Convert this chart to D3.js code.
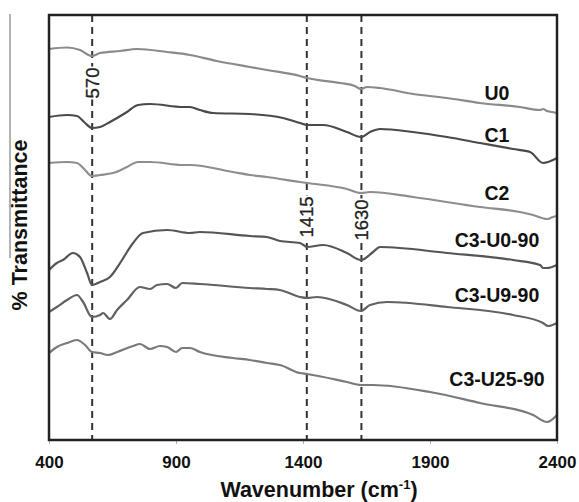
<!DOCTYPE html>
<html>
<head>
<meta charset="utf-8">
<script src="https://cdn.jsdelivr.net/npm/d3@7/dist/d3.min.js"></script>
<style>
  html, body { margin: 0; padding: 0; background: #fff; }
  svg { display: block; font-family: "Liberation Sans", Arial, sans-serif; }
</style>
</head>
<body>
<svg id="chart" width="579" height="502"></svg>
<script>
// ---- Data (wavenumber in cm-1, transmittance in arbitrary offset units) ----
const xTicks = [400, 900, 1400, 1900, 2400];
const markers = [570, 1415, 1630];
const seriesNames = ["U0", "C1", "C2", "C3-U0-90", "C3-U9-90", "C3-U25-90"];

const U0 = [[400,391],[471,392.5],[522,390],[569,384],[601,387],[680,389],[746,391],[865,388],[955,385],[1061,379],[1191,373],[1258,370],[1388,364],[1416,362],[1546,357],[1604,354],[1628,351],[1652,353],[1703,352],[1833,346],[1967,342],[2097,337],[2254,333],[2333,330],[2345,331],[2361,329],[2380,328],[2400,327]];
const C1 = [[400,323],[471,325],[510,324],[542,317],[569,312],[601,313],[640,318],[707,328],[750,335],[798,336],[928,333],[955,333],[994,330],[1046,327],[1191,326],[1321,322],[1388,317],[1416,315],[1479,315],[1573,308],[1628,303],[1664,308],[1703,311],[1833,308],[1967,303],[2097,297],[2227,291],[2294,288],[2345,277],[2400,282]];
const C2 = [[400,277],[471,278],[510,277],[542,270],[569,264],[601,265],[652,267],[707,273],[750,278],[798,278],[928,275],[955,275],[1124,268],[1191,265],[1258,263],[1388,258],[1416,257],[1573,251],[1628,247],[1664,248],[1833,243],[2097,233],[2254,228],[2306,225],[2361,221],[2384,223],[2400,224]];
const C3U0 = [[400,170],[431,177],[455,180],[494,187],[522,183],[550,167],[569,155],[601,158],[640,163],[680,177],[707,188],[731,197],[770,207],[865,210],[955,207],[994,208],[1191,204],[1258,203],[1309,199],[1388,197],[1416,193],[1479,195],[1573,187],[1628,180],[1676,188],[1703,193],[1967,187],[2227,180],[2333,175],[2345,172],[2361,172],[2400,175]];
const C3U9 = [[400,128],[431,133],[471,140],[510,145],[534,138],[569,123],[601,125],[613,127],[640,121],[668,130],[707,140],[758,153],[798,151],[825,155],[865,156],[900,152],[924,157],[994,156],[1191,152],[1258,151],[1309,150],[1388,143],[1416,142],[1455,143],[1573,135],[1628,129],[1664,135],[1731,138],[1967,133],[2227,125],[2345,117],[2365,114],[2400,117]];
const C3U25 = [[400,87],[431,93],[471,97],[510,100],[542,95],[569,88],[601,87],[632,85],[668,88],[731,94],[758,96],[798,91],[837,94],[865,93],[900,88],[924,92],[955,92],[994,88],[1124,82],[1191,80],[1258,77],[1309,75],[1388,67],[1416,66],[1573,58],[1628,55],[1676,55],[1900,48],[2097,37],[2306,25],[2361,18],[2400,25]];

const seriesData = [U0, C1, C2, C3U0, C3U9, C3U25];
const seriesColors = ["#8a8a8a", "#4a4a4a", "#8e8e8e", "#555555", "#626262", "#7a7a7a"];
const labelY = [340, 298, 240, 193, 138, 54]; // label baseline positions in data units

// ---- Layout ----
const svg = d3.select("#chart");
const mLeft = 49, mRight = 557, mTop = 15, mBottom = 440;
const x = d3.scaleLinear().domain([400, 2400]).range([mLeft, mRight]);
const y = d3.scaleLinear().domain([0, 425]).range([mBottom, mTop]);

// stray gray line at left edge
svg.append("line").attr("x1", 10).attr("x2", 10).attr("y1", 14).attr("y2", 258)
  .attr("stroke", "#9a9a9a").attr("stroke-width", 1.5);

// x axis
const xAxis = d3.axisBottom(x).tickValues(xTicks).tickSize(4).tickPadding(12).tickFormat(d3.format("d"));
const gx = svg.append("g").attr("transform", `translate(0,${mBottom})`).call(xAxis);
gx.select(".domain").remove();
gx.selectAll(".tick line").attr("stroke", "#b0b0b0").attr("stroke-width", 1);
gx.selectAll(".tick text").attr("font-size", 17).attr("font-weight", "bold").attr("fill", "#111")
  .attr("font-family", "Liberation Sans, Arial, sans-serif");

// marker dashed lines
markers.forEach(m => {
  svg.append("line").attr("x1", x(m)).attr("x2", x(m)).attr("y1", mTop).attr("y2", mBottom)
    .attr("stroke", "#333").attr("stroke-width", 2).attr("stroke-dasharray", "7,5");
});

// series lines
const line = d3.line().x(d => x(d[0])).y(d => y(d[1])).curve(d3.curveMonotoneX);
seriesData.forEach((s, i) => {
  svg.append("path").datum(s).attr("d", line).attr("fill", "none")
    .attr("stroke", seriesColors[i]).attr("stroke-width", 2.2).attr("stroke-linejoin", "round");
});

// series labels
seriesNames.forEach((n, i) => {
  svg.append("text").attr("x", 497).attr("y", y(labelY[i])).attr("text-anchor", "middle")
    .attr("font-size", 19.5).attr("font-weight", "bold").attr("fill", "#111").text(n);
});

// marker annotations (rotated, with white background)
const annPos = [[570, 357], [1415, 223], [1630, 220]];
annPos.forEach(([m, v]) => {
  const g = svg.append("g").attr("transform", `translate(${x(m)},${y(v)}) rotate(-90)`);
  const rect = g.append("rect").attr("fill", "#fff");
  const t = g.append("text").attr("text-anchor", "middle").attr("dy", "0.36em")
    .attr("font-size", 18.5).attr("fill", "#222").attr("stroke", "#222").attr("stroke-width", 0.3)
    .text(String(m));
  const bb = t.node().getBBox();
  rect.attr("x", bb.x - 1).attr("y", bb.y + 2).attr("width", bb.width + 2).attr("height", bb.height - 4);
});

// frame
svg.append("rect").attr("x", mLeft).attr("y", mTop).attr("width", mRight - mLeft).attr("height", mBottom - mTop)
  .attr("fill", "none").attr("stroke", "#222").attr("stroke-width", 2.5);

// axis titles
const xt = svg.append("text").attr("x", 319).attr("y", 497).attr("text-anchor", "middle")
  .attr("font-size", 21.5).attr("font-weight", "bold").attr("fill", "#111");
xt.append("tspan").text("Wavenumber (cm");
xt.append("tspan").attr("dy", -8).attr("font-size", 13).text("-1");
xt.append("tspan").attr("dy", 8).text(")");

svg.append("text").attr("transform", "translate(27,225) rotate(-90)").attr("text-anchor", "middle")
  .attr("font-size", 21.5).attr("font-weight", "bold").attr("fill", "#111").text("% Transmittance");
</script>
</body>
</html>
